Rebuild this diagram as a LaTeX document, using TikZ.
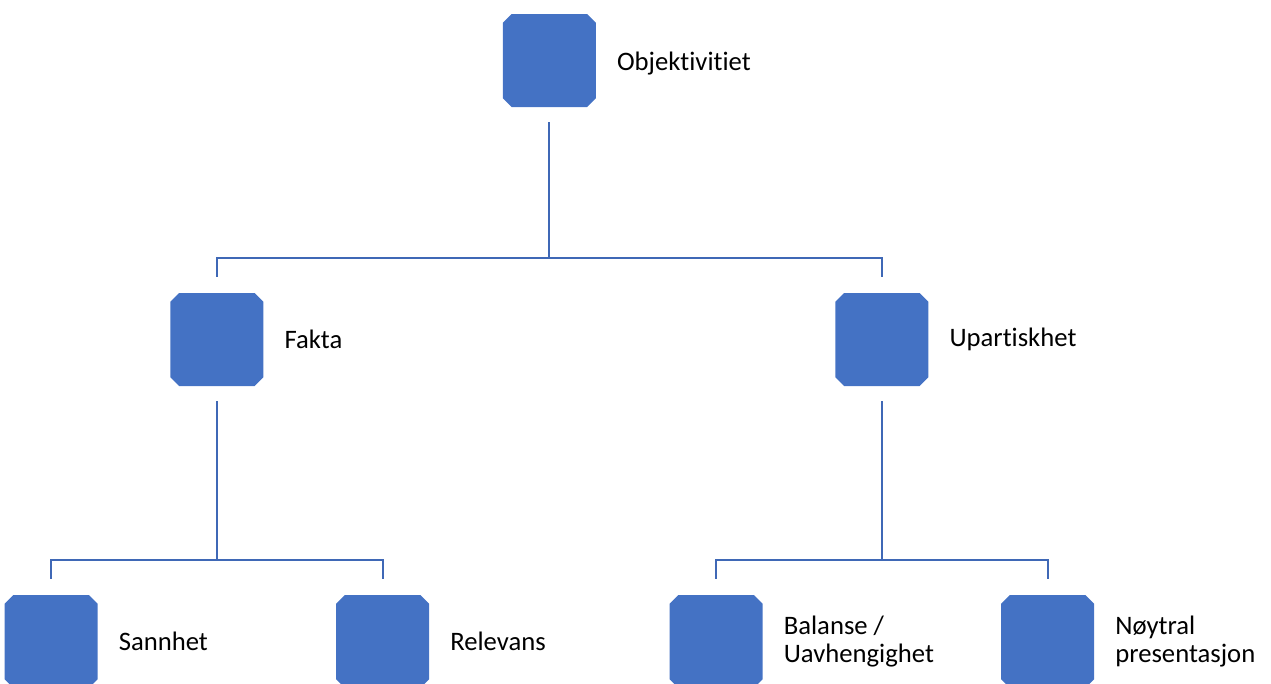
\documentclass[tikz,border=0pt]{standalone}
\usepackage{fontspec}
\setmainfont[Ligatures={NoCommon,NoContextual}]{Carlito}
\usetikzlibrary{shapes.misc,positioning}
\definecolor{boxblue}{HTML}{4472C4}
\definecolor{lineblue}{HTML}{3F68B6}

\begin{document}
\begin{tikzpicture}[level distance=209.25pt,
    edge from parent path={([yshift=-11.25pt]\tikzparentnode.south) |- ([yshift=26pt]\tikzchildnode.north) -- ([yshift=12pt]\tikzchildnode.north)}]
        \tikzstyle{box}=[chamfered rectangle, chamfered rectangle xsep=3.3pt, chamfered rectangle ysep=3.3pt, fill=boxblue, inner sep=31.6pt, minimum size=0pt]
        \tikzstyle{lbl}=[inner sep=0pt, align=left, font=\fontsize{20pt}{21.5pt}\selectfont]
        \tikzstyle{edge from parent}=[draw=lineblue, line width=1.5pt]
        \tikzstyle{level 1}=[sibling distance=498.75pt]
        \tikzstyle{level 2}=[sibling distance=248.6pt, level distance=226.5pt]
        \useasboundingbox (0,0) rectangle (953.25pt,-512.25pt);
        \node[box] (obj) at (412pt,-45.4pt) {}
            child {node[box] (fakta) {}
                child {node[box] (sann) {}}
                child {node[box] (rel) {}}}
            child {node[box] (upart) {}
                child {node[box] (bal) {}}
                child {node[box] (noyt) {}}};
        % tekst ved siden av boksene
        \node[lbl, right=15.5pt of obj, yshift=-2pt] (objtxt) {Objektivitiet};
        \node[lbl, right=15.5pt of fakta] (faktatxt) {Fakta};
        \node[lbl, right=15.5pt of upart] (uparttxt) {Upartiskhet};
        \node[lbl, right=15.5pt of sann] (sanntxt) {Sannhet};
        \node[lbl, right=15.5pt of rel] (reltxt) {Relevans};
        \node[lbl, right=15.5pt of bal] (baltxt) {Balanse /\\Uavhengighet};
        \node[lbl, right=15.5pt of noyt] (noyttxt) {Nøytral\\presentasjon};
    \end{tikzpicture}
\end{document}
